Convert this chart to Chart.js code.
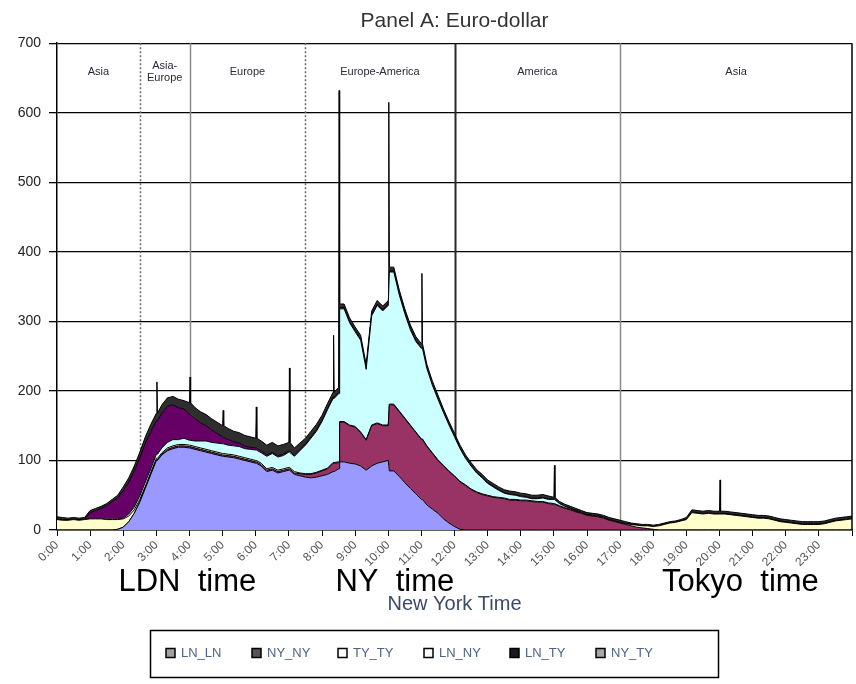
<!DOCTYPE html>
<html><head><meta charset="utf-8">
<script src="https://cdn.jsdelivr.net/npm/chart.js@4.4.1/dist/chart.umd.min.js"></script>
<style>html,body{margin:0;padding:0;background:#fff;}#wrap{width:856px;height:684px;}</style>
</head><body><div id="wrap"><canvas id="c" width="856" height="684"></canvas></div>
<script>
// ---- categories: minutes after midnight (New York time), 10-minute grid ----
const minutes = [
0,10,20,30,40,50, 60,70,80,90,100,110, 120,130,140,150,160,170, 180,190,200,210,220,230,
240,250,260,270,280,290, 300,310,320,330,340,350, 360,370,380,390,400,410, 420,430,440,450,460,470,
480,490,500,510,520,530, 540,550,560,570,580,590, 600,610,620,630,640,650, 660,670,680,690,700,710,
720,730,740,750,760,770, 780,790,800,810,820,830, 840,850,860,870,880,890, 900,910,920,930,940,950,
960,970,980,990,1000,1010, 1020,1030,1040,1050,1060,1070, 1080,1090,1100,1110,1120,1130, 1140,1150,1160,1170,1180,1190,
1200,1210,1220,1230,1240,1250, 1260,1270,1280,1290,1300,1310, 1320,1330,1340,1350,1360,1370, 1380,1390,1400,1410,1420,1430,
1440];

// ---- series values (stacked layers) ----
const LN_LN = [
0,0,0,0,0,0, 0,0,0,0,0,1, 4,12,24,40,60,80, 100,108,114,117,119,119,
118,116,114,112,110,108, 106,105,104,102,100,98, 96,92,84,86,82,84, 86,80,78,76,75,76,
78,80,84,88,98,96, 95,92,86,92,96,98, 100,85,77,68,60,52, 44,36,30,24,16,10,
5,1,0,0,0,0, 0,0,0,0,0,0, 0,0,0,0,0,0, 0,0,0,0,0,0,
0,0,0,0,0,0, 0,0,0,0,0,0, 0,0,0,0,0,0, 0,0,0,0,0,0,
0,0,0,0,0,0, 0,0,0,0,0,0, 0,0,0,0,0,0, 0,0,0,0,0,0,
0];
const NY_NY = [
0,0,0,0,0,0, 0,0,0,0,0,0, 0,0,0,1,1,1, 1,1,2,2,2,2,
2,2,2,2,2,2, 2,2,2,2,2,2, 2,2,2,2,2,2, 2,2,3,4,5,6,
7,8,12,9,57,54, 53,48,43,58,57,52, 50,95,93,92,90,88, 86,84,80,76,76,74,
72,68,64,58,54,51, 49,47,46,45,43,43, 42,42,41,40,40,38, 37,34,31,29,26,24,
21,20,19,17,14,12, 10,8,6,4,3,2, 1,0,0,0,0,0, 0,0,0,0,0,0,
0,0,0,0,0,0, 0,0,0,0,0,0, 0,0,0,0,0,0, 0,0,0,0,0,0,
0];
const TY_TY = [
15,14,14,15,14,15, 16,16,16,15,15,14, 12,8,5,3,2,2, 2,2,2,2,2,2,
2,2,2,2,2,2, 2,2,2,2,2,2, 2,2,2,2,2,2, 2,2,1,1,1,1,
1,1,1,1,1,1, 1,1,1,1,1,1, 1,1,1,1,1,1, 1,1,1,1,1,1,
1,1,1,1,1,1, 1,1,1,1,1,1, 1,1,1,1,1,1, 1,1,1,1,1,1,
1,1,1,1,1,1, 1,1,2,3,3,4, 4,6,8,10,11,13, 15,25,24,23,24,23,
23,23,22,21,20,19, 18,17,17,16,14,12, 11,10,9,8,8,8, 8,9,11,13,14,15,
16];
const LN_NY = [
0,0,0,0,0,0, 1,0,0,1,1,1, 1,3,4,5,6,5, 6,7,8,9,7,9,
7,8,10,12,12,13, 14,13,13,14,13,14, 15,15,18,20,19,19, 22,22,32,41,51,59,
70,84,92,98,162,147, 136,132,101,157,169,164, 172,190,167,150,137,130, 130,111,97,87,76,66,
56,47,38,33,27,23, 17,14,10,7,7,6, 5,4,3,4,5,5, 6,3,2,1,1,0,
0,0,0,0,0,0, 0,0,0,0,0,0, 0,0,0,0,0,0, 0,0,0,0,0,0,
0,0,0,0,0,0, 0,0,0,0,0,0, 0,0,0,0,0,0, 0,0,0,0,0,0,
0];
const LN_TY = [
1,1,1,1,1,1, 8,12,15,19,25,30, 40,46,52,55,56,54, 48,50,52,50,46,42,
38,32,26,22,18,14, 10,8,6,5,4,3, 3,3,2,2,2,2, 2,2,2,2,2,2,
2,2,2,2,2,2, 2,2,2,2,2,2, 2,2,2,2,2,2, 2,1,1,1,1,1,
1,1,1,1,1,1, 1,1,1,1,1,1, 1,1,1,1,1,1, 0,0,0,0,0,0,
0,0,0,0,0,0, 0,0,0,0,0,0, 0,0,0,0,0,0, 0,1,1,1,1,1,
1,1,1,1,1,1, 1,1,1,1,1,1, 1,1,1,1,1,1, 1,1,1,1,1,1,
1];
const NY_TY = [
3,3,2,2,2,2, 3,3,3,3,3,4, 5,6,7,8,9,10, 11,12,12,12,12,12,
16,16,16,16,16,16, 16,16,15,15,15,15, 14,14,14,14,14,14, 12,10,9,8,8,8,
7,7,7,7,5,5, 5,5,5,5,5,5, 5,5,5,5,5,5, 5,5,5,5,4,4,
4,4,4,4,4,4, 4,4,4,4,4,4, 4,4,4,4,4,4, 3,3,3,3,3,3,
3,3,3,3,3,3, 3,3,2,2,2,2, 2,2,2,2,2,2, 3,3,3,3,3,3,
3,3,3,3,3,3, 3,3,3,3,3,3, 3,3,3,3,3,3, 3,3,3,3,3,3,
3];

// one-minute spikes in total volume (minute, peak total), step = level shifts right after
const spikeMinutes = [180, 240, 300, 360, 420, 500, 510, 600, 660, 900, 1200];
const spikeTops    = [213, 220, 172, 177, 233, 280, 632, 615, 369, 93, 72];
const spikeStep    = [0, 0, 0, 0, 0, 0, 1, 1, 0, 0, 0];

// ---- tick labels / annotations ----
const hourTicks = [0,60,120,180,240,300,360,420,480,540,600,660,720,780,840,900,960,1020,1080,1140,1200,1260,1320,1380,1440];
const tickLabels = ['0:00','1:00','2:00','3:00','4:00','5:00','6:00','7:00','8:00','9:00','10:00','11:00','12:00','13:00','14:00','15:00','16:00','17:00','18:00','19:00','20:00','21:00','22:00','23:00',''];
const regionBounds = [0, 150, 240, 450, 720, 1020, 1440];
const regionNames = [['Asia'], ['Asia-','Europe'], ['Europe'], ['Europe-America'], ['America'], ['Asia']];
const regionLineStyle = ['dot','solid','dot','dark','solid'];
const sessionNotes = ['LDN  time', 'NY  time', 'Tokyo  time'];
const sessionNoteAt = [236, 612, 1238];

const seriesNames = ['LN_LN','NY_NY','TY_TY','LN_NY','LN_TY','NY_TY'];
const seriesFill = ['#9999FF','#993366','#FFFFCC','#CCFFFF','#660066','#2e2e2e'];
const legendFill = ['#a0a0a0','#555555','#ffffff','#ffffff','#1a1a1a','#a6a6a6'];

// ---- build stacked point tables ----
const layers = [LN_LN, NY_NY, TY_TY, LN_NY, LN_TY, NY_TY];
const xs = []; const ys = layers.map(() => []);
minutes.forEach((m, i) => {
  xs.push(m); layers.forEach((L, k) => ys[k].push(L[i]));
  const s = spikeMinutes.indexOf(m);
  if (s >= 0) {
    const tot = layers.reduce((a, L) => a + L[i], 0);
    xs.push(m + 1); layers.forEach((L, k) => ys[k].push(k === 5 ? L[i] + spikeTops[s] - tot : L[i]));
    const j = spikeStep[s] ? i + 1 : i;
    xs.push(m + 2); layers.forEach((L, k) => ys[k].push(L[j]));
  }
});

const FONT = "'Liberation Sans', Arial, Helvetica, sans-serif";
Chart.defaults.font.family = FONT;

const datasets = seriesNames.map((n, k) => ({
  label: n,
  data: xs.map((x, i) => ({x: x, y: ys[k][i]})),
  backgroundColor: seriesFill[k],
  borderColor: '#000',
  borderWidth: 1,
  pointRadius: 0,
  tension: 0,
  fill: k === 0 ? 'origin' : '-1'
}));

const decor = {
  id: 'decor',
  beforeDatasetsDraw(chart) {
    const {ctx, chartArea: a, scales: {x}} = chart;
    ctx.save();
    for (let i = 1; i < regionBounds.length - 1; i++) {
      const px = Math.round(x.getPixelForValue(regionBounds[i])) + 0.5;
      const st = regionLineStyle[i - 1];
      ctx.beginPath();
      ctx.setLineDash(st === 'dot' ? [2, 2] : []);
      ctx.strokeStyle = st === 'dark' ? '#2a2a2a' : (st === 'dot' ? '#6a6a6a' : '#8a8a8a');
      ctx.lineWidth = st === 'dark' ? 2 : 1.5;
      ctx.moveTo(px, a.top); ctx.lineTo(px, a.bottom);
      ctx.stroke();
    }
    ctx.restore();
  },
  afterDraw(chart) {
    const {ctx, chartArea: a, scales: {x, y}} = chart;
    ctx.save();
    // right frame
    ctx.strokeStyle = '#000'; ctx.lineWidth = 1.5;
    ctx.beginPath(); ctx.moveTo(a.right, a.top); ctx.lineTo(a.right, a.bottom); ctx.stroke();
    // region labels
    ctx.fillStyle = '#2a2a3a'; ctx.font = '11px ' + FONT; ctx.textAlign = 'center'; ctx.textBaseline = 'middle';
    const ly = y.getPixelForValue(658);
    regionNames.forEach((lines, i) => {
      const cx = (x.getPixelForValue(regionBounds[i]) + x.getPixelForValue(regionBounds[i + 1])) / 2;
      if (lines.length === 1) ctx.fillText(lines[0], cx, ly);
      else { ctx.fillText(lines[0], cx, ly - 6); ctx.fillText(lines[1], cx, ly + 6); }
    });
    // session annotations
    ctx.fillStyle = '#000'; ctx.font = '31px ' + FONT; ctx.textBaseline = 'alphabetic';
    sessionNotes.forEach((t, i) => ctx.fillText(t, x.getPixelForValue(sessionNoteAt[i]), a.bottom + 61));
    // legend
    const bx = 150, by = 630, bw = 568, bh = 47;
    ctx.strokeStyle = '#000'; ctx.lineWidth = 1.5;
    ctx.strokeRect(bx + 0.5, by + 0.5, bw, bh);
    ctx.font = '13px ' + FONT; ctx.textAlign = 'left'; ctx.textBaseline = 'middle';
    const cy = by + bh / 2;
    chart.data.datasets.forEach((d, i) => {
      const sx = bx + 16 + i * 86;
      ctx.fillStyle = legendFill[i]; ctx.fillRect(sx, cy - 5, 9, 9);
      ctx.strokeStyle = '#000'; ctx.lineWidth = 1.5; ctx.strokeRect(sx, cy - 5, 9, 9);
      ctx.fillStyle = '#4f6285'; ctx.fillText(d.label, sx + 15, cy);
    });
    ctx.restore();
  }
};

new Chart(document.getElementById('c'), {
  type: 'line',
  data: {datasets},
  options: {
    responsive: false, animation: false, devicePixelRatio: 1,
    layout: {padding: {left: 0, right: 4, top: 0, bottom: 68}},
    plugins: {
      legend: {display: false},
      tooltip: {enabled: false},
      title: {display: true, text: 'Panel A: Euro-dollar', fullSize: false, color: '#333',
              font: {size: 21, weight: 'normal'}, padding: {top: 9, bottom: 9}}
    },
    scales: {
      x: {
        type: 'linear', min: 0, max: 1440,
        afterBuildTicks(s) { s.ticks = hourTicks.map(v => ({value: v})); },
        afterFit(s) { s.height = 86; s.paddingRight = 0; s.paddingLeft = 0; },
        ticks: {autoSkip: false, minRotation: 45, maxRotation: 45, color: '#555', font: {size: 12}, padding: 2,
                callback: (v, i) => tickLabels[i]},
        grid: {drawOnChartArea: false, drawTicks: true, tickLength: 6, color: '#000', lineWidth: 1},
        border: {color: '#000', width: 1.5},
        title: {display: true, text: 'New York Time', color: '#3c4a66', font: {size: 20}, padding: 0}
      },
      y: {
        stacked: true, min: 0, max: 700,
        afterFit(s) { s.width = 57; s.paddingTop = 0; s.paddingBottom = 0; },
        ticks: {stepSize: 100, color: '#222', font: {size: 14}, padding: 8},
        grid: {color: '#000', lineWidth: 1.3, tickLength: 8},
        border: {color: '#000', width: 1.5}
      }
    }
  },
  plugins: [decor]
});
</script></body></html>
